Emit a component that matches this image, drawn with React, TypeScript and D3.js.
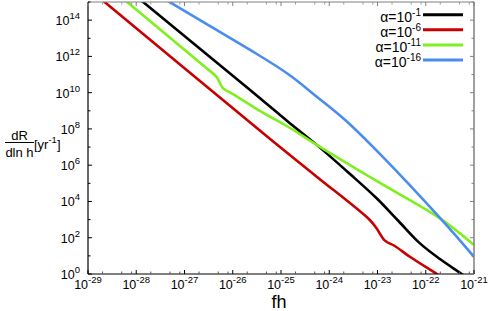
import React from 'react';
import * as d3 from 'd3';

// fh values and dR/dlnh in yr^-1
const blackFh = [1.0e-28, 2.29e-26, 1.40e-25, 5.50e-25, 2.69e-24, 9.6e-24, 2.66e-23, 7.59e-23, 1.97e-22, 5.56e-22, 9.1e-22];
const blackRate = [2.04e15, 1.41e10, 2.51e8, 1.32e7, 3.28e5, 1.5e4, 893, 49, 6.7, 1, 0.39];

const redFh = [1.58e-29, 6.31e-26, 5.50e-25, 6.92e-24, 9.55e-24, 1.43e-23, 2.29e-23, 4.68e-23, 1.70e-22, 2.51e-22];
const redRate = [2.09e15, 2.45e7, 2.34e5, 955, 331, 69, 35, 8.9, 1, 0.5];

const greenFh = [4.27e-29, 2.63e-27, 4.57e-27, 6.31e-27, 1.10e-26, 3.89e-26, 1.40e-25, 5.50e-25, 9.55e-24, 1.97e-22, 1e-21];
const greenRate = [2.5e15, 2.69e11, 7.59e10, 1.74e10, 7.41e9, 8.91e8, 1.32e8, 1.32e7, 1.35e5, 1175, 40];

const blueFh = [3.16e-28, 3.39e-27, 2.29e-26, 1.40e-25, 5.50e-25, 2.14e-24, 1.12e-23, 1.97e-22, 1e-21];
const blueRate = [2.0e15, 4.68e13, 2.29e12, 1.07e11, 6.03e9, 3.09e8, 4.17e6, 1230, 8.9];

const seriesNames = ['-1', '-6', '-11', '-16'];
const seriesColors = ['#000000', '#c80000', '#7ef01e', '#4a8cf0'];

const xTickExps = [-29, -28, -27, -26, -25, -24, -23, -22, -21];
const yTickExps = [0, 2, 4, 6, 8, 10, 12, 14];

const W = 490;
const H = 311;
const left = 88, right = 474, top = 2, bottom = 274;
const FONT = '"Liberation Sans", Arial, sans-serif';

export default function App() {
  const x = d3.scaleLog().domain([1e-29, 1e-21]).range([left, right]);
  const y = d3.scaleLog().domain([1, 1e15]).range([bottom, top]);

  const series = [
    { fh: blackFh, rate: blackRate },
    { fh: redFh, rate: redRate },
    { fh: greenFh, rate: greenRate },
    { fh: blueFh, rate: blueRate },
  ];

  const line = d3.line<[number, number]>()
    .x(d => x(d[0]))
    .y(d => y(d[1]))
    .curve(d3.curveCatmullRom.alpha(0.5));

  // minor ticks on x: 2, 5, 8 in each decade
  const xMinor: number[] = [];
  for (let e = -29; e < -21; e++) {
    [2, 5, 8].forEach(m => xMinor.push(m * Math.pow(10, e)));
  }
  const yAll = d3.range(0, 16).map(e => Math.pow(10, e));

  return (
    <svg width={W} height={H} style={{ position: 'absolute', left: 0, top: 0, fontFamily: FONT }}>
      <defs>
        <clipPath id="plot">
          <rect x={left} y={top} width={right - left} height={bottom - top} />
        </clipPath>
      </defs>

      <g clipPath="url(#plot)">
        {series.map((s, i) => (
          <path key={i}
            d={line(s.fh.map((f, j) => [f, s.rate[j]] as [number, number])) || ''}
            fill="none" stroke={seriesColors[i]} strokeWidth={2.6} strokeLinejoin="round" />
        ))}
      </g>

      {/* frame */}
      <line x1={left} x2={right} y1={top} y2={top} stroke="#808080" strokeWidth={1} />
      <line x1={right} x2={right} y1={top} y2={bottom} stroke="#808080" strokeWidth={1.5} />
      <line x1={left} x2={left} y1={top} y2={bottom} stroke="#000" strokeWidth={1.2} />
      <line x1={left} x2={right} y1={bottom} y2={bottom} stroke="#000" strokeWidth={1.2} />

      {/* x ticks */}
      {xTickExps.map(e => {
        const px = x(Math.pow(10, e));
        return (
          <g key={'xt' + e}>
            <line x1={px} x2={px} y1={bottom} y2={bottom - 4} stroke="#000" />
            <line x1={px} x2={px} y1={top} y2={top + 4} stroke="#808080" />
          </g>
        );
      })}
      {xMinor.map((v, i) => {
        const px = x(v);
        return (
          <g key={'xm' + i}>
            <line x1={px} x2={px} y1={bottom} y2={bottom - 2.5} stroke="#555" />
            <line x1={px} x2={px} y1={top} y2={top + 2.5} stroke="#999" />
          </g>
        );
      })}

      {/* y ticks */}
      {yAll.map((v, i) => {
        const py = y(v);
        const len = i % 2 === 0 ? 4 : 2.5;
        return (
          <g key={'yt' + i}>
            <line x1={left} x2={left + len} y1={py} y2={py} stroke="#000" />
            <line x1={right} x2={right - len} y1={py} y2={py} stroke="#808080" />
          </g>
        );
      })}

      {/* tick labels */}
      {xTickExps.map(e => (
        <text key={'xl' + e} x={x(Math.pow(10, e))} y={288.5} textAnchor="middle" fontSize={12.5} fill="#000">
          <tspan>10</tspan>
          <tspan fontSize={9.5} dy={-6}>{e}</tspan>
        </text>
      ))}
      {yTickExps.map(e => (
        <text key={'yl' + e} x={80} y={y(Math.pow(10, e)) + 5} textAnchor="end" fontSize={12.5} fill="#000">
          <tspan>10</tspan>
          <tspan fontSize={9.5} dy={-6}>{e}</tspan>
        </text>
      ))}

      {/* axis titles */}
      <text x={279} y={308} textAnchor="middle" fontSize={18} fill="#000">fh</text>
      <text x={19.5} y={139.5} textAnchor="middle" fontSize={13} fill="#000">dR</text>
      <line x1={5} x2={34} y1={142.5} y2={142.5} stroke="#000" strokeWidth={1} />
      <text x={19.5} y={156.5} textAnchor="middle" fontSize={13} fill="#000">dln h</text>
      <text x={34} y={148.5} fontSize={13} fill="#000">
        <tspan>[yr</tspan>
        <tspan fontSize={9.5} dy={-6}>-1</tspan>
        <tspan dy={6}>]</tspan>
      </text>

      {/* legend */}
      {seriesNames.map((n, i) => {
        const base = 21.5 + i * 15.1;
        return (
          <g key={'lg' + i}>
            <text x={421} y={base} textAnchor="end" fontSize={14} fill="#000">
              <tspan>α=10</tspan>
              <tspan fontSize={10} dy={-5.5}>{n}</tspan>
            </text>
            <line x1={423} x2={463} y1={base - 6.8} y2={base - 6.8} stroke={seriesColors[i]} strokeWidth={3} />
          </g>
        );
      })}
    </svg>
  );
}
